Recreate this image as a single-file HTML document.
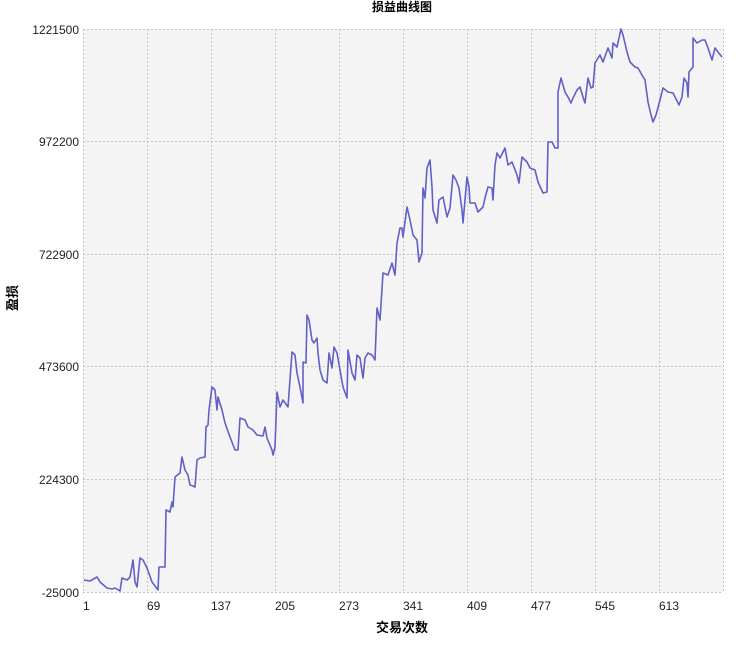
<!DOCTYPE html>
<html><head><meta charset="utf-8"><style>
html,body{margin:0;padding:0;background:#fff;}
svg{display:block;font-family:"Liberation Sans","Noto Sans CJK SC",sans-serif;}
</style></head><body>
<svg width="741" height="648" viewBox="0 0 741 648" xmlns="http://www.w3.org/2000/svg">
<rect x="0" y="0" width="741" height="648" fill="#fff"/>
<rect x="83" y="29" width="640" height="563" fill="#f4f4f4"/>
<g stroke="#c4c4c4" stroke-width="1" stroke-dasharray="2,2" fill="none">
<line x1="83" y1="29.5" x2="723" y2="29.5"/>
<line x1="83" y1="141.5" x2="723" y2="141.5"/>
<line x1="83" y1="254.5" x2="723" y2="254.5"/>
<line x1="83" y1="366.5" x2="723" y2="366.5"/>
<line x1="83" y1="479.5" x2="723" y2="479.5"/>
<line x1="83" y1="592.5" x2="723" y2="592.5"/>
<line x1="83.5" y1="29" x2="83.5" y2="592"/>
<line x1="147.5" y1="29" x2="147.5" y2="592"/>
<line x1="211.5" y1="29" x2="211.5" y2="592"/>
<line x1="275.5" y1="29" x2="275.5" y2="592"/>
<line x1="339.5" y1="29" x2="339.5" y2="592"/>
<line x1="403.5" y1="29" x2="403.5" y2="592"/>
<line x1="467.5" y1="29" x2="467.5" y2="592"/>
<line x1="531.5" y1="29" x2="531.5" y2="592"/>
<line x1="595.5" y1="29" x2="595.5" y2="592"/>
<line x1="659.5" y1="29" x2="659.5" y2="592"/>
<line x1="723.5" y1="29" x2="723.5" y2="592"/>
</g>
<polyline fill="none" stroke="#6060c8" stroke-width="1.6" stroke-linejoin="round" points="
84,580 90,581 97,577 100,582 107,588 112,589 115,588 120,591 122,578 127,580 130,577 133,560 135,582 137,587 140,558 143,560 147,568 152,582 158,590 159,567 165,567 166,510 170,512 172,502 173,507 175,477 180,473 182,457 185,470 188,475 190,485 193,486 195,487 197,460 200,458 205,457 206,427 208,425 209,410 212,387 215,390 217,410 218,397 222,410 225,423 230,437 235,450 238,450 240,418 245,420 248,427 253,430 257,435 263,436 265,427 267,438 272,450 273,455 275,447 277,392 280,407 283,400 288,407 292,352 295,355 297,373 300,387 303,403 303,362 306,363 307,315 309,320 312,340 314,343 317,338 318,353 320,370 323,380 327,383 329,353 332,368 334,347 337,353 340,370 343,387 347,398 348,350 352,373 355,380 357,355 360,358 363,378 365,358 368,353 372,355 375,360 377,308 380,320 383,273 388,275 392,263 395,275 397,243 400,228 402,228 403,237 407,207 410,220 413,235 417,240 419,262 422,253 423,188 425,198 427,168 430,160 432,187 433,210 437,223 439,200 443,197 447,217 450,208 453,175 456,180 459,188 462,210 463,223 467,177 469,187 470,203 475,203 478,212 483,207 485,198 488,187 492,188 493,200 495,165 497,153 500,158 505,148 508,165 512,162 517,175 519,183 522,157 527,162 530,168 535,170 538,182 543,193 547,192 548,142 552,142 555,148 558,148 558,92 561,78 565,92 568,97 571,103 573,98 577,90 580,87 583,97 585,103 588,78 591,88 593,87 595,63 600,55 603,62 608,48 612,58 613,43 617,47 621,29 623,35 627,52 630,62 635,67 638,68 642,75 645,80 648,102 651,115 653,122 656,115 660,100 663,88 668,92 673,93 679,105 682,97 684,78 687,83 688,97 689,72 693,67 693,38 697,43 702,40 705,40 708,48 712,60 715,48 718,52 722,57"/>
<g font-size="12" fill="#222" text-anchor="end">
<text x="79" y="34">1221500</text>
<text x="79" y="146">972200</text>
<text x="79" y="259">722900</text>
<text x="79" y="371">473600</text>
<text x="79" y="484">224300</text>
<text x="79" y="597">-25000</text>
</g>
<g font-size="12" fill="#222">
<text x="83" y="610">1</text>
<text x="147" y="610">69</text>
<text x="211" y="610">137</text>
<text x="275" y="610">205</text>
<text x="339" y="610">273</text>
<text x="403" y="610">341</text>
<text x="467" y="610">409</text>
<text x="531" y="610">477</text>
<text x="595" y="610">545</text>
<text x="659" y="610">613</text>
</g>
<text x="402" y="11" font-size="12" font-weight="bold" text-anchor="middle" fill="#000">损益曲线图</text>
<text x="402" y="632" font-size="13" font-weight="bold" text-anchor="middle" fill="#000">交易次数</text>
<text transform="translate(17,298) rotate(-90)" font-size="13" font-weight="bold" text-anchor="middle" fill="#000">盈损</text>
</svg>
</body></html>
